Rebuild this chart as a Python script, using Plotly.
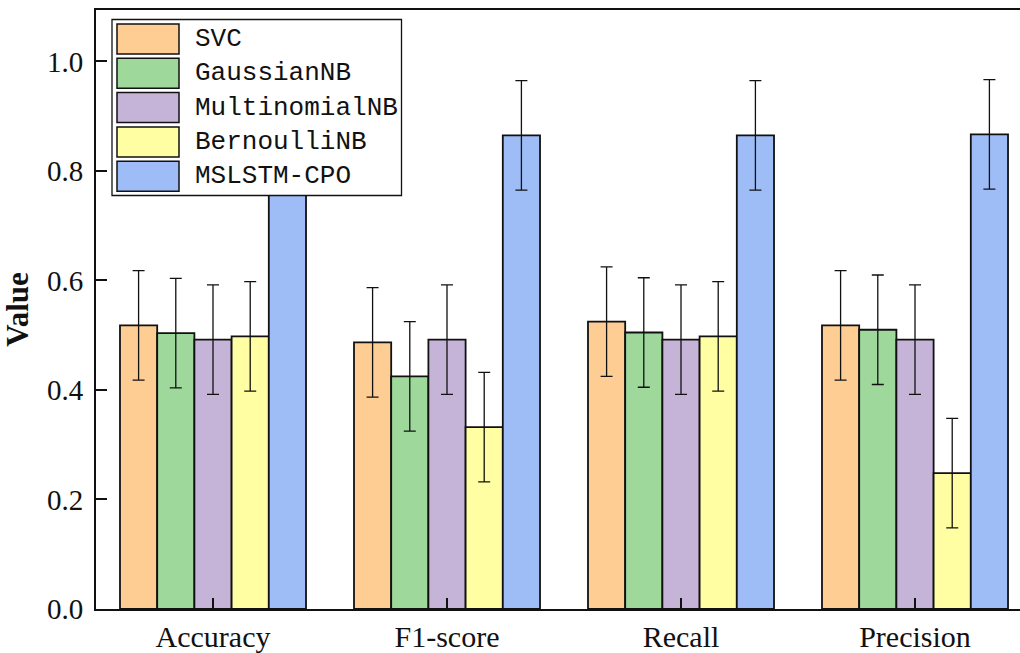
import plotly.graph_objects as go

categories = ["Accuracy", "F1-score", "Recall", "Precision"]
models = ["SVC", "GaussianNB", "MultinomialNB", "BernoulliNB", "MSLSTM-CPO"]
svc = [0.518, 0.487, 0.525, 0.518]
gaussian = [0.504, 0.425, 0.505, 0.510]
multinomial = [0.492, 0.492, 0.492, 0.492]
bernoulli = [0.498, 0.332, 0.498, 0.248]
mslstm = [0.866, 0.865, 0.865, 0.867]
errors = [0.1, 0.1, 0.1, 0.1]
colors = ["#FECD94", "#9ED89B", "#C6B4D8", "#FFFEA2", "#9EBDF6"]
series = [svc, gaussian, multinomial, bernoulli, mslstm]
y_ticks = [0.0, 0.2, 0.4, 0.6, 0.8, 1.0]

# the reference is cropped on the right: the figure is drawn wider than the
# 1020 px window and the page hides the overflow
W, H = 1032, 653
ML, MR, MT, MB = 96, 0, 10, 44
PW, PH = W - ML - MR, H - MT - MB

fig = go.Figure()
for name, vals, col in zip(models, series, colors):
    fig.add_trace(go.Bar(
        name=name, x=categories, y=vals,
        marker=dict(color=col, line=dict(color="#111111", width=1.8)),
        error_y=dict(type="data", array=errors, color="#111111",
                     thickness=1.3, width=6),
        showlegend=False,
    ))

def px_x(p):
    return (p - ML) / PW

def px_y(p):
    return (H - MB - p) / PH

shapes = []
annotations = []
# legend box
shapes.append(dict(type="rect", xref="paper", yref="paper",
                   x0=px_x(112), x1=px_x(401.5), y0=px_y(195.5), y1=px_y(19.5),
                   line=dict(color="#111111", width=1.3), fillcolor="white", layer="above"))
row_h = 34.3
for i, (name, col) in enumerate(zip(models, colors)):
    top = 24 + i * row_h
    shapes.append(dict(type="rect", xref="paper", yref="paper",
                       x0=px_x(117), x1=px_x(179), y0=px_y(top + 30), y1=px_y(top),
                       line=dict(color="#111111", width=1.5), fillcolor=col, layer="above"))
    annotations.append(dict(xref="paper", yref="paper", x=px_x(193), y=px_y(top + 15),
                            text=name, showarrow=False, xanchor="left", yanchor="middle",
                            font=dict(family="Liberation Mono", size=26, color="#111111")))

fig.update_layout(
    width=W, height=H,
    margin=dict(l=ML, r=MR, t=MT, b=MB, pad=0),
    plot_bgcolor="white", paper_bgcolor="white",
    barmode="group", bargap=0.205, bargroupgap=0,
    font=dict(family="Liberation Serif", size=28, color="#111111"),
    shapes=shapes, annotations=annotations,
    xaxis=dict(range=[-0.5, 3.5], showline=True, linecolor="#111111", linewidth=2,
               mirror=True, ticks="inside", ticklen=11, tickwidth=2, tickcolor="#111111",
               showgrid=False, zeroline=False, ticklabelstandoff=0, automargin=False,
               tickfont=dict(family="Liberation Serif", size=30, color="#111111")),
    yaxis=dict(range=[0, 1.094], showline=True, linecolor="#111111", linewidth=2,
               mirror=True, ticks="inside", ticklen=11, tickwidth=2, tickcolor="#111111",
               tickvals=y_ticks, ticktext=[f"{v:.1f}" for v in y_ticks],
               showgrid=False, zeroline=False, ticklabelstandoff=5, automargin=False,
               tickfont=dict(family="Liberation Serif", size=29, color="#111111"),
               title=dict(text="<b>Value</b>", standoff=10,
                          font=dict(family="Liberation Serif", size=31, color="#111111"))),
)

fig.write_html("out.html", config={"displayModeBar": False},
               post_script="document.body.style.margin='0';document.body.style.overflow='hidden';")
